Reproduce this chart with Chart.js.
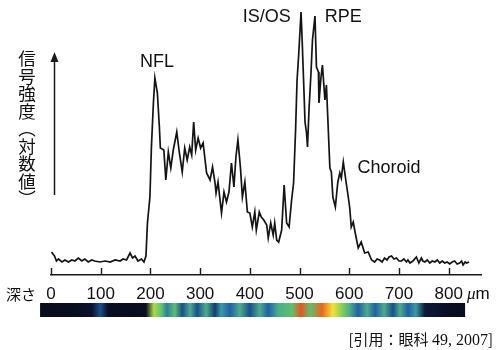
<!DOCTYPE html>
<html lang="ja">
<head>
<meta charset="utf-8">
<title>A-scan profile</title>
<script src="https://cdn.jsdelivr.net/npm/chart.js@4.4.1/dist/chart.umd.min.js"></script>
<style>
  html, body { margin: 0; padding: 0; background: #fff; }
  #wrap { position: relative; width: 500px; height: 350px; overflow: hidden; }
  #scan { position: absolute; left: 0; top: 0; }
  .txt { position: absolute; color: #111; white-space: nowrap; }
  #ylabel { left: 18px; top: 50px; font: 17.5px/17.5px "Noto Sans CJK JP", sans-serif; writing-mode: vertical-rl; }
  #depthLabel { left: 6px; top: 285px; font: 15px/18px "Noto Sans CJK JP", sans-serif; }
  #unit { left: 467px; top: 284px; font: 17px/20px "Liberation Sans", Arial, sans-serif; }
  #unit i { font-family: "Liberation Serif", serif; }
  #cite { right: 7px; top: 330px; font: 15px/18px "Noto Sans CJK JP", sans-serif; }
  #cite span { font-family: "Liberation Serif", serif; font-size: 16px; }
</style>
</head>
<body>
<div id="wrap">
  <canvas id="scan" width="500" height="350"></canvas>
  <div class="txt" id="ylabel">信号強度（対数値）</div>
  <div class="txt" id="depthLabel">深さ</div>
  <div class="txt" id="unit"><i>μ</i>m</div>
  <div class="txt" id="cite">[引用：眼科 <span>49, 2007</span>]</div>
</div>
<script>
// depth along the scan (µm) and log signal (arbitrary units)
const depth = [
  1, 7, 11, 15, 22, 28, 35, 42, 48, 55,
  62, 68, 75, 82, 88, 98, 109, 119, 129, 139,
  145, 152, 159, 164, 169, 175, 182, 187, 191, 194,
  199, 202, 206, 209, 214, 218, 220, 227, 231, 236,
  241, 246, 253, 258, 264, 269, 274, 279, 283, 287,
  291, 296, 301, 306, 313, 320, 325, 330, 332, 336,
  343, 348, 353, 358, 363, 368, 372, 376, 381, 385,
  390, 395, 400, 405, 410, 413, 419, 423, 428, 434,
  437, 442, 447, 450, 454, 458, 464, 469, 474, 479,
  484, 488, 492, 495, 498, 503, 505, 509, 511, 514,
  516, 519, 523, 526, 531, 534, 538, 539, 543, 546,
  551, 554, 557, 561, 564, 567, 572, 577, 581, 584,
  588, 593, 598, 601, 604, 608, 612, 618, 624, 631,
  638, 645, 651, 656, 661, 666, 671, 676, 680, 685,
  690, 695, 700, 705, 710, 715, 718, 722, 728, 735,
  740, 745, 748, 752, 757, 762, 767, 772, 777, 782,
  787, 792, 797, 802, 807, 812, 817, 822, 826, 829,
  833, 836, 841
];
const signal = [
  23, 19, 14, 16, 13, 15, 13, 15, 14, 17,
  14, 16, 13, 15, 14, 13, 14, 13, 15, 14,
  16, 15, 22, 17, 19, 14, 16, 13, 19, 52,
  78, 128, 172, 197, 182, 148, 127, 125, 95, 123,
  107, 125, 143, 123, 103, 127, 115, 128, 120, 153,
  125, 137, 127, 132, 102, 95, 108, 92, 82, 93,
  62, 83, 73, 83, 112, 88, 118, 135, 108, 78,
  93, 63, 62, 48, 63, 45, 63, 58, 55, 50,
  37, 52, 40, 52, 35, 33, 45, 90, 52, 48,
  75, 92, 145, 195, 218, 263, 238, 182, 153, 142,
  128, 165, 202, 235, 259, 208, 203, 172, 197, 210,
  175, 190, 155, 107, 103, 78, 68, 93, 102, 97,
  113, 95, 78, 67, 48, 53, 42, 27, 33, 22,
  23, 15, 13, 16, 15, 13, 17, 15, 18, 19,
  16, 17, 14, 14, 16, 13, 15, 12, 14, 18,
  12, 17, 14, 13, 15, 12, 14, 13, 15, 12,
  14, 12, 13, 11, 13, 14, 11, 12, 14, 10,
  13, 12, 13
];

const tickValues = [0, 100, 200, 300, 400, 500, 600, 700, 800];

// layer names and where they sit (depth µm, signal level)
const peakNames  = ['NFL', 'IS/OS', 'RPE', 'Choroid'];
const peakDepth  = [213, 434, 588, 680];
const peakLevel  = [213, 258, 258, 107];

// colour strip under the axis: reflectivity level (0..1) along depth
const stripFrom  = -22;
const stripTo    = 833;
const stripDepth = [-12, 38, 82, 99, 115, 159, 191, 207, 223, 233,
                    249, 264, 280, 294, 312, 330, 342, 360, 380, 400,
                    420, 437, 457, 485, 503, 521, 545, 567, 583, 601,
                    618, 636, 652, 670, 688, 702, 718, 734, 752, 793, 827];
const stripLevel = [0.04, 0.05, 0.08, 0.3, 0.06, 0.05, 0.06, 0.66, 0.55, 0.4,
                    0.55, 0.3, 0.5, 0.3, 0.5, 0.25, 0.45, 0.35, 0.5, 0.3,
                    0.5, 0.35, 0.5, 0.55, 0.95, 0.55, 0.92, 0.78, 0.62, 0.5,
                    0.35, 0.5, 0.35, 0.5, 0.3, 0.5, 0.35, 0.45, 0.12, 0.06, 0.05];

const jet = [
  [0.0, [5, 7, 15]], [0.1, [10, 21, 48]], [0.25, [18, 60, 120]],
  [0.35, [32, 96, 168]], [0.45, [58, 154, 160]], [0.55, [92, 192, 112]],
  [0.65, [168, 216, 72]], [0.78, [242, 226, 58]], [0.88, [240, 122, 32]],
  [1.0, [232, 58, 26]]
];
function colourFor(v) {
  for (let i = 1; i < jet.length; i++) {
    if (v <= jet[i][0]) {
      const [a, ca] = jet[i - 1], [b, cb] = jet[i];
      const t = (v - a) / (b - a);
      const c = ca.map((k, j) => Math.round(k + (cb[j] - k) * t));
      return `rgb(${c[0]},${c[1]},${c[2]})`;
    }
  }
  return 'rgb(232,58,26)';
}

const decorations = {
  id: 'decorations',
  afterDraw(chart) {
    const { ctx, chartArea, scales: { x, y } } = chart;
    ctx.save();

    // tick marks stand up from the axis line
    ctx.strokeStyle = '#1a1a1a';
    ctx.lineWidth = 1.4;
    tickValues.forEach(v => {
      const px = Math.round(x.getPixelForValue(v)) + 0.5;
      ctx.beginPath();
      ctx.moveTo(px, chartArea.bottom);
      ctx.lineTo(px, chartArea.bottom - 7);
      ctx.stroke();
    });

    // upward arrow = increasing signal
    const ax = chartArea.left + 3.5;
    ctx.lineWidth = 1.5;
    ctx.beginPath();
    ctx.moveTo(ax, 195);
    ctx.lineTo(ax, 60);
    ctx.stroke();
    ctx.fillStyle = '#1a1a1a';
    ctx.beginPath();
    ctx.moveTo(ax, 52);
    ctx.lineTo(ax - 4, 62);
    ctx.lineTo(ax + 4, 62);
    ctx.closePath();
    ctx.fill();

    // layer names
    ctx.font = '18px "Liberation Sans", Arial, sans-serif';
    ctx.textAlign = 'center';
    ctx.textBaseline = 'middle';
    ctx.fillStyle = '#111';
    peakNames.forEach((name, i) => {
      ctx.fillText(name, x.getPixelForValue(peakDepth[i]), y.getPixelForValue(peakLevel[i]));
    });

    // colour strip
    const x0 = x.getPixelForValue(stripFrom);
    const x1 = x.getPixelForValue(stripTo);
    const g = ctx.createLinearGradient(x0, 0, x1, 0);
    stripDepth.forEach((d, i) => {
      g.addColorStop((d - stripFrom) / (stripTo - stripFrom), colourFor(stripLevel[i]));
    });
    ctx.fillStyle = g;
    ctx.fillRect(x0, 303, x1 - x0, 14);

    ctx.restore();
  }
};

Chart.defaults.font.family = '"Liberation Sans", Arial, sans-serif';
Chart.defaults.color = '#111';

new Chart(document.getElementById('scan'), {
  type: 'line',
  data: {
    datasets: [{
      data: depth.map((d, i) => ({ x: d, y: signal[i] })),
      borderColor: '#141414',
      borderWidth: 1.7,
      pointRadius: 0,
      tension: 0,
      fill: false,
      clip: false
    }]
  },
  options: {
    responsive: false,
    animation: false,
    layout: { padding: { left: 51, right: 19, top: 10, bottom: 39 } },
    plugins: { legend: { display: false }, tooltip: { enabled: false } },
    scales: {
      x: {
        type: 'linear',
        min: 0,
        max: 865,
        afterBuildTicks: s => { s.ticks = tickValues.map(v => ({ value: v })); },
        afterFit: s => { s.height = 36; },
        grid: { display: false, drawTicks: false },
        border: { display: true, color: '#1a1a1a', width: 1.5 },
        ticks: { font: { size: 17 }, color: '#111', padding: 9, autoSkip: false, maxRotation: 0 }
      },
      y: {
        display: false,
        min: 0,
        max: 265
      }
    }
  },
  plugins: [decorations]
});
</script>
</body>
</html>
